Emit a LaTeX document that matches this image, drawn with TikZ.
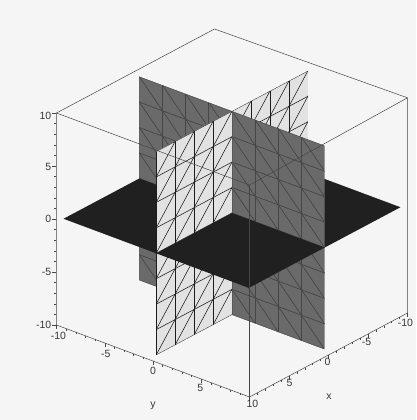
\documentclass[tikz,border=0pt]{standalone}
\usepackage{fontspec}
\setmainfont{Liberation Sans}
\definecolor{bgc}{RGB}{245,245,245}
\definecolor{zcol}{RGB}{32,32,32}
\definecolor{dk}{RGB}{106,106,106}
\definecolor{dkline}{RGB}{70,70,70}
\definecolor{lt}{RGB}{226,226,226}
\definecolor{ltline}{RGB}{28,28,28}
\definecolor{boxc}{RGB}{70,70,70}
\definecolor{labc}{RGB}{55,55,55}
\tikzset{
  zface/.style={fill=zcol},
  xface/.style={fill=dk},
  yface/.style={fill=lt},
  xmeshline/.style={draw=dkline, line width=0.7pt},
  ymeshline/.style={draw=ltline, line width=0.55pt},
  boxedge/.style={draw=boxc, line width=0.5pt},
  tickmark/.style={draw=boxc, line width=0.45pt},
  ticklab/.style={text=labc, font=\fontsize{10.5}{11}\selectfont, inner sep=0pt},
}
\newcommand\zquarter[2]{\fill[zface] (0,0,0) -- ({#1*9.6},0,0) -- ({#1*9.6},{#2*9.6},0) -- (0,{#2*9.6},0) -- cycle;}
\newcommand\xquarter[2]{\begin{scope}
  \clip (0,0,0) -- (0,{#1*9.6},0) -- (0,{#1*9.6},{#2*9.6}) -- (0,0,{#2*9.6}) -- cycle;
  \fill[xface] (0,-10,-10) -- (0,10,-10) -- (0,10,10) -- (0,-10,10) -- cycle;
  \foreach \k in {-4,...,4}{
    \draw[xmeshline] (0,{\k*2.4},-9.6) -- (0,{\k*2.4},9.6);
    \draw[xmeshline] (0,-9.6,{\k*2.4}) -- (0,9.6,{\k*2.4});}
  \foreach \k in {-7,...,7}{
    \draw[xmeshline] (0,{\k*2.4+9.6},-9.6) -- (0,{\k*2.4-9.6},9.6);}
\end{scope}}
\newcommand\yquarter[2]{\begin{scope}
  \clip (0,0,0) -- ({#1*9.6},0,0) -- ({#1*9.6},0,{#2*9.6}) -- (0,0,{#2*9.6}) -- cycle;
  \fill[yface] (-10,0,-10) -- (10,0,-10) -- (10,0,10) -- (-10,0,10) -- cycle;
  \foreach \k in {-4,...,4}{
    \draw[ymeshline] ({\k*2.4},0,-9.6) -- ({\k*2.4},0,9.6);
    \draw[ymeshline] (-9.6,0,{\k*2.4}) -- (9.6,0,{\k*2.4});}
  \foreach \k in {-7,...,7}{
    \draw[ymeshline] ({\k*2.4+9.6},0,-9.6) -- ({\k*2.4-9.6},0,9.6);}
\end{scope}}
\begin{document}
\begin{tikzpicture}[x={(-7.9pt,-4.2pt)}, y={(9.65pt,-3.6pt)}, z={(0pt,10.6pt)}, line join=round]
\fill[bgc] (-232pt,-207pt) rectangle (184pt,213pt);
\useasboundingbox (-232pt,-207pt) rectangle (184pt,213pt);
% planes, back to front
\zquarter{-1}{-1}
\yquarter{-1}{-1}
\xquarter{-1}{-1}
\yquarter{-1}{1}
\zquarter{-1}{1}
\xquarter{-1}{1}
\xquarter{1}{-1}
\zquarter{1}{-1}
\yquarter{1}{-1}
\xquarter{1}{1}
\yquarter{1}{1}
\zquarter{1}{1}
% box
\coordinate (TL) at (10,-10,10);
\coordinate (TB) at (-10,-10,10);
\coordinate (TR) at (-10,10,10.3);
\coordinate (TF) at (10,10,10);
\coordinate (BL) at (10,-10,-10);
\coordinate (BF) at (10,10,-10);
\coordinate (BR) at (-10,10,-10);
\draw[boxedge] (TL) -- (TB) -- (TR);
\draw[boxedge] (TL) -- (TF) -- (TR);
\draw[boxedge] (TL) -- (BL) -- (BF) -- (BR) -- (TR);
\draw[boxedge] (TF) -- (BF);
% ticks
\foreach \t in {-10,...,10}{
  \draw[tickmark] (10,-10,\t) -- ++(-2pt,0pt);
  \draw[tickmark] (10,\t,-10) -- ++(0pt,-2pt);
  \draw[tickmark] (\t,10,-10) -- ++(0pt,-2pt);}
\foreach \t in {-10,-5,0,5,10}{
  \draw[tickmark] (10,-10,\t) -- ++(-4pt,0pt);
  \draw[tickmark] (10,\t,-10) -- ++(0pt,-3.5pt);
  \draw[tickmark] (\t,10,-10) -- ++(0pt,-3.5pt);}
% z labels
\node[ticklab, anchor=east, xshift=-5pt, yshift=-3pt] (zA) at (10,-10,10) {10};
\node[ticklab, anchor=east, xshift=-5pt, yshift=-1pt] (zB) at (10,-10,5) {5};
\node[ticklab, anchor=east, xshift=-5pt] (zC) at (10,-10,0) {0};
\node[ticklab, anchor=east, xshift=-5pt] (zD) at (10,-10,-5) {-5};
\node[ticklab, anchor=east, xshift=-5pt] (zE) at (10,-10,-10) {-10};
% y labels
\node[ticklab, xshift=2pt, yshift=-11pt] (yA) at (10,-10,-10) {-10};
\node[ticklab, xshift=1pt, yshift=-10.5pt] (yB) at (10,-5,-10) {-5};
\node[ticklab, yshift=-10pt] (yC) at (10,0,-10) {0};
\node[ticklab, xshift=-1pt, yshift=-9pt] (yD) at (10,5,-10) {5};
\node[ticklab, xshift=3pt, yshift=-7pt] (yE) at (10,10,-10) {10};
% x labels
\node[ticklab, xshift=0.5pt, yshift=-7pt] (xB) at (5,10,-10) {5};
\node[ticklab, xshift=-1pt, yshift=-7pt] (xC) at (0,10,-10) {0};
\node[ticklab, xshift=-1.5pt, yshift=-8pt] (xD) at (-5,10,-10) {-5};
\node[ticklab, xshift=-2pt, yshift=-10pt] (xE) at (-10,10,-10) {-10};
% axis names
\node[ticklab] (ylab) at (-79pt,-193pt) {y};
\node[ticklab] (xlab) at (97pt,-184pt) {x};
\end{tikzpicture}
\end{document}
